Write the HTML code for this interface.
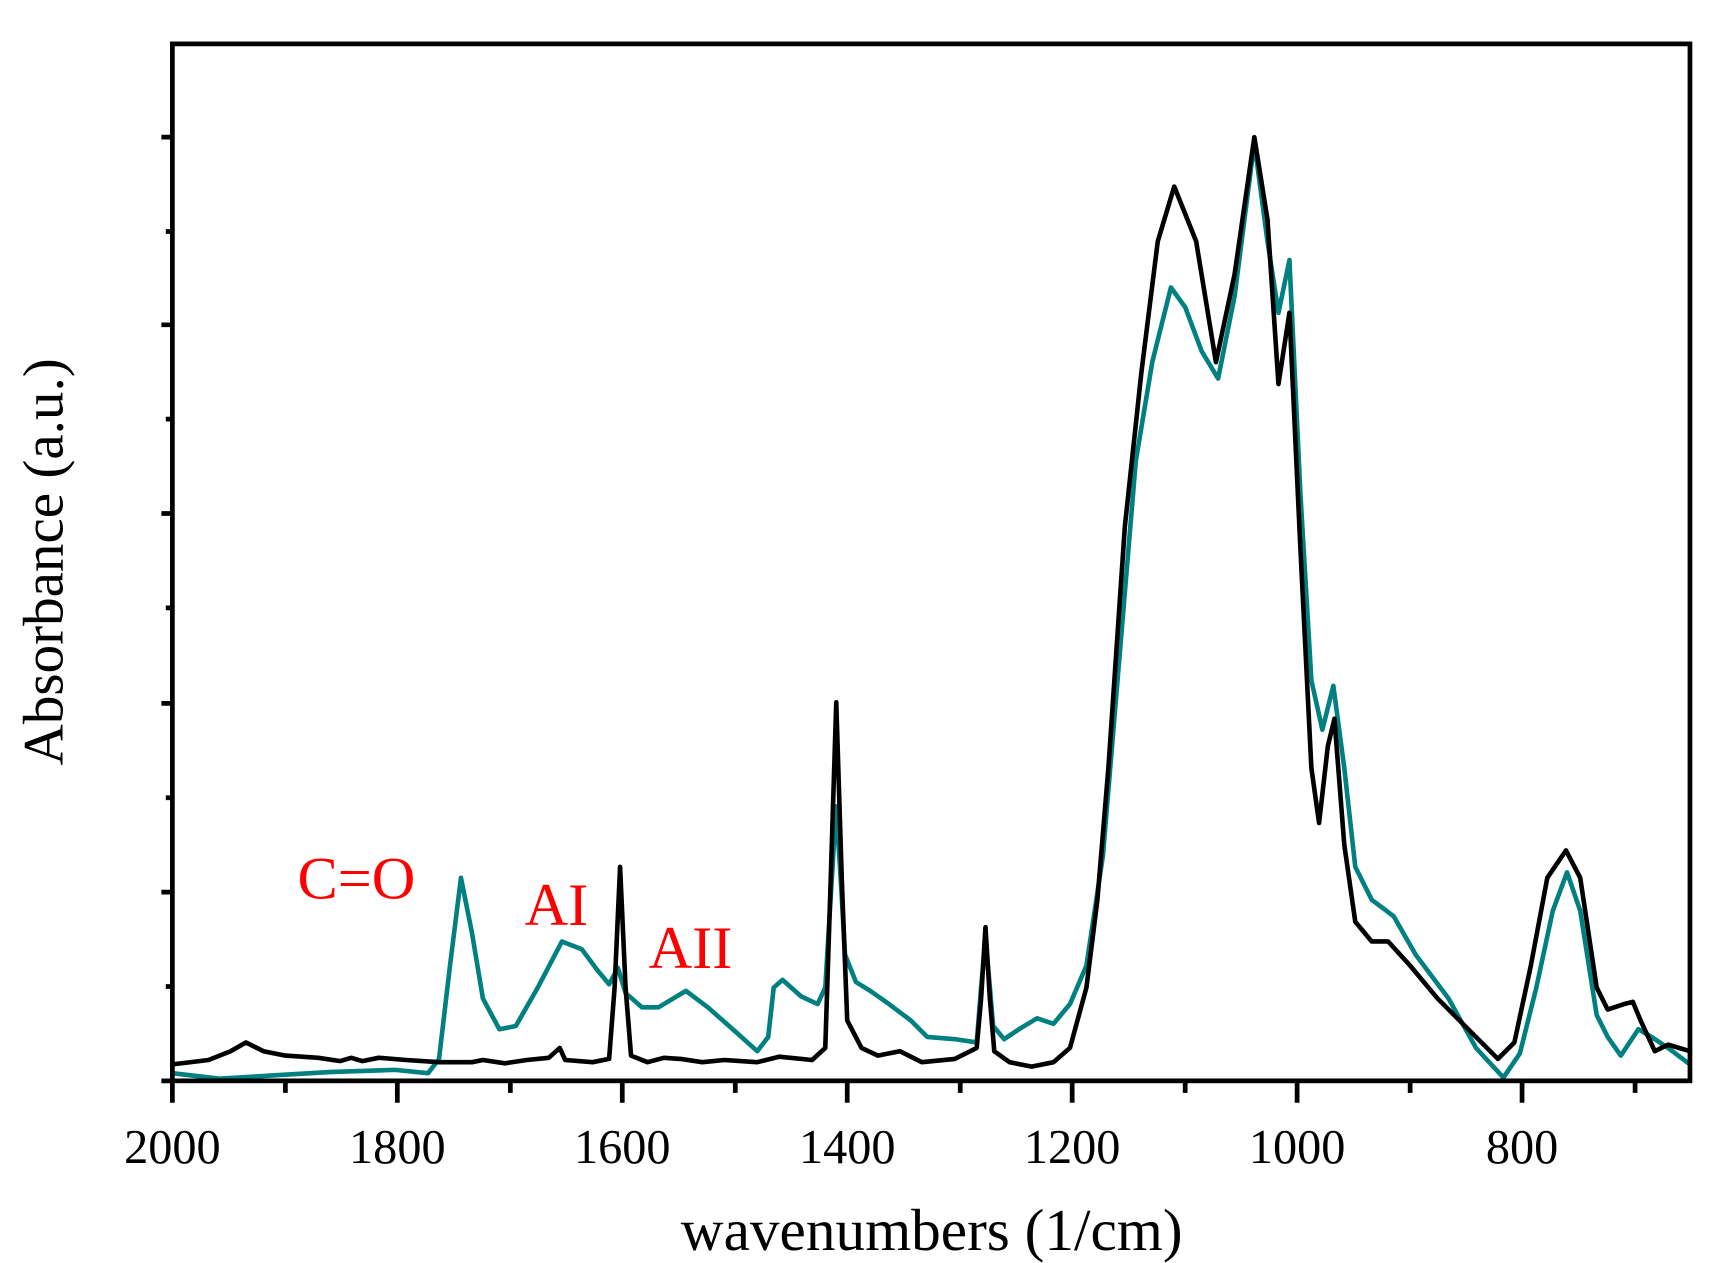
<!DOCTYPE html>
<html><head><meta charset="utf-8"><style>html,body{margin:0;padding:0;background:#fff}svg{display:block}</style></head>
<body>
<svg width="1712" height="1263" viewBox="0 0 1560 1151" xmlns="http://www.w3.org/2000/svg" font-family="Liberation Serif, serif">
<rect width="1560" height="1151" fill="#fff"/>
<g fill="none" stroke-linejoin="round" stroke-linecap="round" stroke-width="4.2">
<polyline stroke="#008080" points="157,978 200,983 250,980 300,977 360,975 390,978 400,965 410,880 420,800 430,850 440,910 455,938 470,935 490,900 512,858 530,865 545,885 555,897 563,882 570,905 585,918 600,918 625,903 645,918 670,940 690,958 700,945 705,900 713,893 730,908 745,915 752,900 758,800 762,735 766,800 770,870 780,895 793,903 810,915 830,930 845,945 870,947 890,950 894,900 898,855 902,900 905,935 915,947 930,937 945,928 960,933 975,915 990,880 1005,780 1020,600 1035,420 1050,330 1067,262 1080,280 1095,320 1110,345 1125,270 1143,130 1155,220 1165,285 1175,237 1185,450 1195,620 1205,665 1215,625 1225,700 1235,790 1250,820 1270,835 1290,870 1320,910 1345,955 1370,982 1385,960 1400,900 1415,830 1428,795 1440,830 1455,925 1465,945 1477,962 1493,938 1505,945 1520,955 1540,970"/>
<polyline stroke="#000" points="157,970 190,966 210,958 224,950 240,958 260,962 290,964 310,967 320,964 330,967 345,964 370,966 400,968 430,968 440,966 460,969 480,966 500,964 510,955 515,966 540,968 555,965 560,900 565,790 570,900 575,962 590,968 605,964 620,965 640,968 660,966 690,968 710,963 740,966 752,955 757,800 762,640 767,800 772,930 785,955 800,962 820,958 840,968 870,965 890,955 894,910 898,845 902,910 906,958 920,968 940,972 960,968 975,955 990,900 1000,820 1010,700 1025,480 1040,340 1055,220 1070,170 1090,220 1108,330 1125,250 1143,125 1155,200 1165,350 1175,285 1185,500 1195,700 1202,750 1210,680 1216,655 1225,770 1235,840 1250,858 1265,858 1285,880 1310,910 1340,940 1365,965 1380,950 1395,880 1410,800 1427,775 1440,800 1455,900 1465,920 1480,915 1488,913 1495,930 1508,958 1520,952 1540,958"/>
</g>
<g stroke="#000" stroke-width="4.3" fill="none">
<rect x="157" y="40" width="1383" height="945"/>
<path d="M147,985H157M147,813H157M147,641H157M147,468H157M147,296H157M147,125H157M151,899H157M151,727H157M151,554H157M151,382H157M151,211H157"/>
<path d="M157,985V1005M362,985V1005M567,985V1005M772,985V1005M977,985V1005M1182,985V1005M1387,985V1005M260,985V996M465,985V996M670,985V996M875,985V996M1080,985V996M1285,985V996M1490,985V996"/>
</g>
<g font-size="44" text-anchor="middle" fill="#000">
<text x="157" y="1060">2000</text><text x="362" y="1060">1800</text><text x="567" y="1060">1600</text><text x="772" y="1060">1400</text><text x="977" y="1060">1200</text><text x="1182" y="1060">1000</text><text x="1387" y="1060">800</text>
</g>
<text x="849" y="1139" font-size="54" text-anchor="middle">wavenumbers (1/cm)</text>
<text transform="translate(57,512) rotate(-90)" font-size="52" text-anchor="middle">Absorbance (a.u.)</text>
<g fill="#ff0000" font-size="55">
<text x="271" y="819">C=O</text><text x="478" y="843">AI</text><text x="591" y="882">AII</text>
</g>
</svg>
</body></html>
